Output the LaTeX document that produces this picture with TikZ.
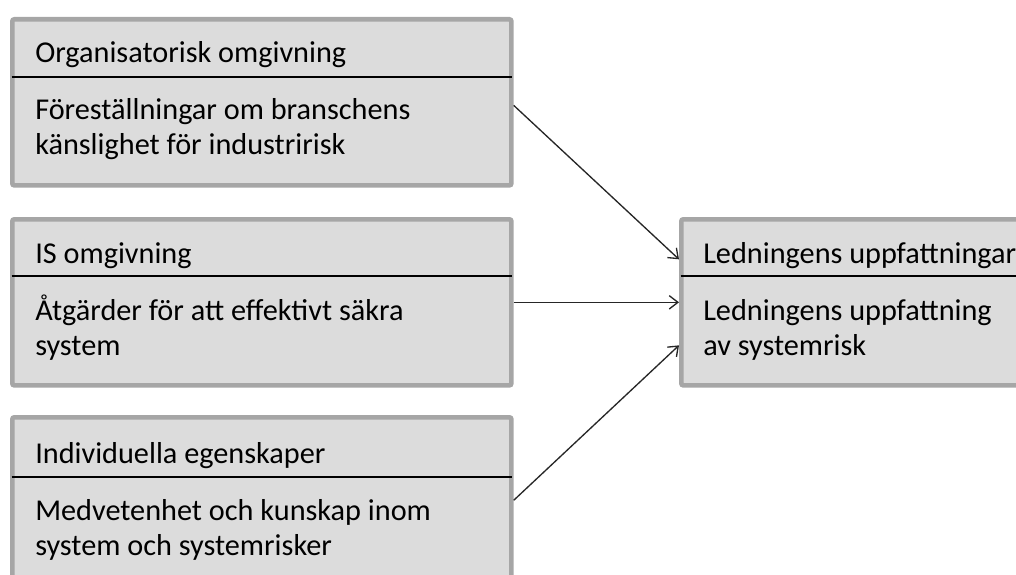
\documentclass[tikz,border=0pt]{standalone}
\usepackage{fontspec}
\setmainfont{Carlito}
\usetikzlibrary{arrows.meta,calc}
\definecolor{boxfill}{HTML}{DCDCDC}
\definecolor{boxline}{HTML}{A6A6A6}
\begin{document}
\begin{tikzpicture}[x=0.75pt,y=-0.75pt,
  box/.style={draw=boxline,fill=boxfill,line width=3.5pt,rounded corners=1.5pt,
    minimum width=374.25pt,minimum height=124.5pt,inner sep=0pt,anchor=north west},
  rbox/.style={box,minimum width=270pt},
  sep/.style={draw=black,line width=0.9pt},
  txt/.style={anchor=base west,inner sep=0pt,font=\fontsize{22.7}{27}\selectfont,text=black},
  arr/.style={draw=black!85,line width=1pt,-{Straight Barb[length=6.5pt,width=10pt]}}]
\useasboundingbox (0,0) rectangle (1016,574);
\begin{scope}
\clip (0,0) rectangle (1016,574);
% left boxes
\node[box] (b1) at (10,17) {};
\node[box] (b2) at (10,217) {};
\node[box] (b3) at (10,415) {};
\node[rbox] (rb) at (679,217) {};
% separators
\draw[sep] ($(b1.north west)+(1.5,60)$) -- ($(b1.north east)+(-1.5,60)$);
\draw[sep] ($(b2.north west)+(1.5,59)$) -- ($(b2.north east)+(-1.5,59)$);
\draw[sep] ($(b3.north west)+(1.5,62)$) -- ($(b3.north east)+(-1.5,62)$);
\draw[sep] ($(rb.north west)+(1.5,59)$) -- ($(rb.north east)+(-1.5,59)$);
% texts
\node[txt] (t1) at (35,63) {Organisatorisk omgivning};
\node[txt] (t1a) at (35,120) {Föreställningar om branschens};
\node[txt] (t1b) at (35,155) {känslighet för industririsk};
\node[txt] (t2) at (35,263) {IS omgivning};
\node[txt] (t2a) at (35,320) {Åtgärder för att effektivt säkra};
\node[txt] (t2b) at (35,355) {system};
\node[txt] (t3) at (35,463) {Individuella egenskaper};
\node[txt] (t3a) at (35,520) {Medvetenhet och kunskap inom};
\node[txt] (t3b) at (35,555) {system och systemrisker};
\node[txt] (t4) at (703,263) {Ledningens uppfattningar};
\node[txt] (t4a) at (703,320) {Ledningens uppfattning};
\node[txt] (t4b) at (703,355) {av systemrisk};
% arrows
\draw[arr] ($(b1.east)+(0,3)$) -- ($(rb.west)+(0,-43)$);
\draw[arr] (b2.east) -- (rb.west);
\draw[arr] (b3.east) -- ($(rb.west)+(0,43)$);
\end{scope}
\end{tikzpicture}
\end{document}
